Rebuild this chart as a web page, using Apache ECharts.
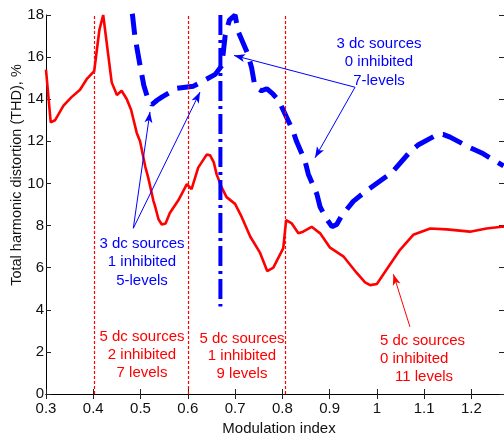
<!DOCTYPE html>
<html>
<head>
<meta charset="utf-8">
<script src="https://cdn.jsdelivr.net/npm/echarts@6/dist/echarts.min.js"></script>
<style>html,body{margin:0;padding:0;background:#fff}#c{width:504px;height:441px}</style>
</head>
<body>
<div id="c"></div>
<script>
// 5 dc sources, variable inhibited (red solid)
const redM = [0.300,0.310,0.319,0.337,0.354,0.372,0.386,0.402,0.406,0.413,0.421,0.439,0.450,0.460,0.471,0.480,0.492,0.499,0.510,0.516,0.527,0.531,0.538,0.545,0.553,0.562,0.580,0.598,0.608,0.622,0.640,0.647,0.655,0.661,0.672,0.682,0.700,0.714,0.732,0.753,0.768,0.781,0.795,0.802,0.808,0.820,0.834,0.844,0.862,0.880,0.901,0.929,0.957,0.975,0.986,1.000,1.021,1.049,1.077,1.113,1.148,1.197,1.232,1.264,1.270];
const redTHD = [15.4,12.9,13.0,13.7,14.1,14.45,14.95,15.34,15.4,17.3,18.0,14.8,14.2,14.4,14.0,13.5,12.4,12.0,10.8,10.3,9.2,8.9,8.3,8.05,8.1,8.6,9.2,9.97,9.73,10.75,11.37,11.34,11.0,10.43,9.8,9.35,9.03,8.41,7.48,6.7,5.84,6.0,6.62,6.93,8.26,8.1,7.63,7.71,7.94,7.63,6.95,6.54,5.76,5.3,5.17,5.22,5.92,6.85,7.56,7.86,7.82,7.71,7.86,7.94,7.95];
// 3 dc sources, 0 inhibited, 7-levels (blue dashed)
const blueM = [0.470,0.483,0.488,0.499,0.507,0.516,0.524,0.535,0.545,0.577,0.612,0.658,0.672,0.679,0.688,0.700,0.707,0.726,0.735,0.742,0.756,0.767,0.780,0.792,0.802,0.823,0.830,0.848,0.855,0.873,0.880,0.894,0.905,0.915,0.925,0.950,0.979,1.017,1.031,1.070,1.088,1.127,1.140,1.155,1.197,1.222,1.268];
const blueTHD = [19.5,18.0,17.0,15.6,14.65,14.0,13.74,13.95,14.1,14.52,14.62,15.18,15.6,17.0,17.76,18.0,17.2,16.2,15.5,14.6,14.4,14.5,14.25,13.95,13.48,12.47,12.0,11.07,10.44,9.5,8.88,8.3,7.95,8.05,8.45,9.15,9.67,10.28,10.5,11.5,11.84,12.31,12.33,12.2,11.7,11.45,10.83];
// 3 dc sources, 1 inhibited, 5-levels (blue dash-dot)
const dashDotM = [0.669,0.669];
const dashDotTHD = [18.0,4.15];
// level boundaries (red dotted)
const boundaries = [0.403,0.600,0.807];

const xTicks = {min:0.3, max:1.269, interval:0.1};
const yTicks = {min:0, max:18, interval:2};

const zip = (a,b)=>a.map((v,i)=>[v,b[i]]);
const FONT = '"Liberation Sans", Arial, Helvetica, sans-serif';
const BLUE = '#0000ff', RED = '#ff0000';

const chart = echarts.init(document.getElementById('c'), null, {renderer:'canvas'});
const axisCommon = {
  axisLine:{show:true, lineStyle:{color:'#000', width:1}},
  axisTick:{show:true, inside:true, length:5, lineStyle:{color:'#222'}},
  splitLine:{show:false}
};
function arrow(x1,y1,x2,y2){ return [{coord:[x1,y1]},{coord:[x2,y2]}]; }

chart.setOption({
  animation:false,
  backgroundColor:'#fff',
  grid:{left:46, top:15, right:0, bottom:41, containLabel:false},
  xAxis:[
    Object.assign({type:'value', position:'bottom', min:xTicks.min, max:xTicks.max, interval:xTicks.interval,
      name:'Modulation index', nameLocation:'middle', nameGap:27,
      nameTextStyle:{fontFamily:FONT, fontSize:15, color:'#111', padding:[0,0,0,8]},
      axisLabel:{fontFamily:FONT, fontSize:15, color:'#111', margin:7, showMaxLabel:false}}, axisCommon),
    Object.assign({type:'value', position:'top', min:xTicks.min, max:xTicks.max, interval:xTicks.interval,
      axisLabel:{show:false}}, axisCommon)
  ],
  yAxis:[
    Object.assign({type:'value', position:'left', min:yTicks.min, max:yTicks.max, interval:yTicks.interval,
      axisLabel:{fontFamily:FONT, fontSize:15, color:'#111', margin:2}}, axisCommon),
    Object.assign({type:'value', position:'right', min:yTicks.min, max:yTicks.max, interval:yTicks.interval,
      axisLabel:{show:false}}, axisCommon)
  ],
  series:[
    {type:'line', name:'boundaries', data:[], symbol:'none', silent:true,
      markLine:{silent:true, symbol:['none','none'], label:{show:false},
        lineStyle:{color:RED, width:1.2, type:[3,2]},
        data: boundaries.map(b=>[{coord:[b,yTicks.min]},{coord:[b,yTicks.max]}])}},
    {type:'line', name:'5 dc', data:zip(redM,redTHD), symbol:'none', smooth:false, clip:true,
      lineStyle:{color:RED, width:2.6}, z:3,
      markLine:{silent:true, symbol:['none','arrow'], symbolSize:[6,11], label:{show:false},
        lineStyle:{color:RED, width:1, type:'solid'},
        data:[arrow(1.070,3.19,1.035,5.69)]}},
    {type:'line', name:'3 dc 0 inh', data:zip(blueM,blueTHD), symbol:'none', clip:true,
      lineStyle:{color:BLUE, width:5, type:[21,10], cap:'butt'}, z:4,
      markLine:{silent:true, symbol:['none','arrow'], symbolSize:[6,11], label:{show:false},
        lineStyle:{color:BLUE, width:1, type:'solid'},
        data:[arrow(0.9538,14.57,0.6978,16.08), arrow(0.9538,14.57,0.8692,11.22),
              arrow(0.4847,7.87,0.520,13.40), arrow(0.4847,7.87,0.6259,14.34)]}},
    {type:'line', name:'3 dc 1 inh', data:zip(dashDotM,dashDotTHD), symbol:'none', clip:true,
      lineStyle:{color:BLUE, width:4, type:[20,5,3,5], cap:'butt'}, z:4}
  ],
  graphic:[
    {type:'text', x:17, y:175, rotation:Math.PI/2,
      style:{text:'Total harmonic distortion (THD), %', font:'14.5px '+FONT, fill:'#111', align:'center', verticalAlign:'middle'}},
    {type:'text', x:142, y:262, style:{text:'3 dc sources\n1 inhibited\n5-levels', font:'15px '+FONT, fill:BLUE, align:'center', verticalAlign:'middle', lineHeight:18.5}},
    {type:'text', x:142, y:355, style:{text:'5 dc sources\n2 inhibited\n7 levels', font:'15px '+FONT, fill:RED, align:'center', verticalAlign:'middle', lineHeight:18}},
    {type:'text', x:242, y:356, style:{text:'5 dc sources\n1 inhibited\n9 levels', font:'15px '+FONT, fill:RED, align:'center', verticalAlign:'middle', lineHeight:17.5}},
    {type:'text', x:379, y:62, style:{text:'3 dc sources\n0 inhibited\n7-levels', font:'15px '+FONT, fill:BLUE, align:'center', verticalAlign:'middle', lineHeight:18.5}},
    {type:'text', x:380, y:350, style:{text:'5 dc sources\n0 inhibited', font:'15px '+FONT, fill:RED, align:'left', verticalAlign:'middle', lineHeight:18.5}},
    {type:'text', x:395, y:377, style:{text:'11 levels', font:'15px '+FONT, fill:RED, align:'left', verticalAlign:'middle'}}
  ]
});
</script>
</body>
</html>
